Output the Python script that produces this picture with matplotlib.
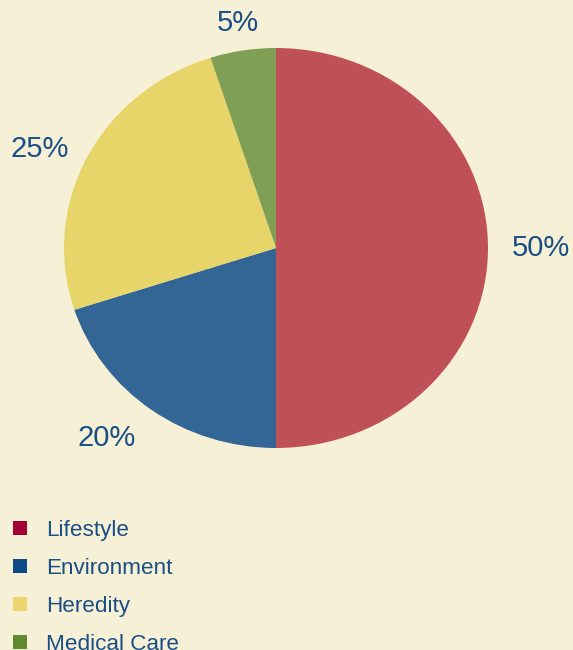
import numpy as np
import matplotlib.pyplot as plt
from matplotlib.lines import Line2D

categories = ['Lifestyle', 'Environment', 'Heredity', 'Medical Care']
shares = [50, 20, 25, 5]
pie_colors = ['#c05057', '#336595', '#e8d56a', '#7f9f55']
legend_colors = ['#a50034', '#0d4a87', '#ead56f', '#5f8a2e']
# label placement: distance from centre and a small angular nudge (degrees)
label_dist = [1.25, 1.24, 1.22, 1.14]
label_shift = [0, -4, 3, 0]

bg = '#f6f1d6'
text_color = '#1a4f86'

plt.rcParams['font.family'] = ['Liberation Sans', 'DejaVu Sans']

fig = plt.figure(figsize=(5.73, 6.5), dpi=100, facecolor=bg)
# axes sized so the pie comes out slightly wider than tall, like the original
ax = fig.add_axes([0.4 / 573, 162 / 650, 551.2 / 573, 488 / 650])
ax.set_facecolor(bg)

wedges, _ = ax.pie(shares, colors=pie_colors, startangle=90, counterclock=False,
                   wedgeprops=dict(linewidth=0))
for w, s, d, sh in zip(wedges, shares, label_dist, label_shift):
    mid = np.deg2rad((w.theta1 + w.theta2) / 2 + sh)
    ax.text(d * np.cos(mid), d * np.sin(mid), f'{s}%', color=text_color, fontsize=21,
            ha='center', va='center', clip_on=False)

ax.set_aspect('auto')
ax.set_xlim(-1.3, 1.3)
ax.set_ylim(-1.2, 1.24)
ax.axis('off')

handles = [Line2D([], [], linestyle='none', marker='s', markersize=10.5,
                  markerfacecolor=c, markeredgewidth=0) for c in legend_colors]
leg = fig.legend(handles, categories, loc='upper left', bbox_to_anchor=(9 / 573, 1 - 520 / 650),
                 frameon=False, fontsize=16.2, handlelength=1.0, handletextpad=0.64,
                 labelspacing=0.75, borderpad=0, borderaxespad=0)
for t in leg.get_texts():
    t.set_color(text_color)

fig.savefig('out.png', dpi=100, facecolor=bg)
